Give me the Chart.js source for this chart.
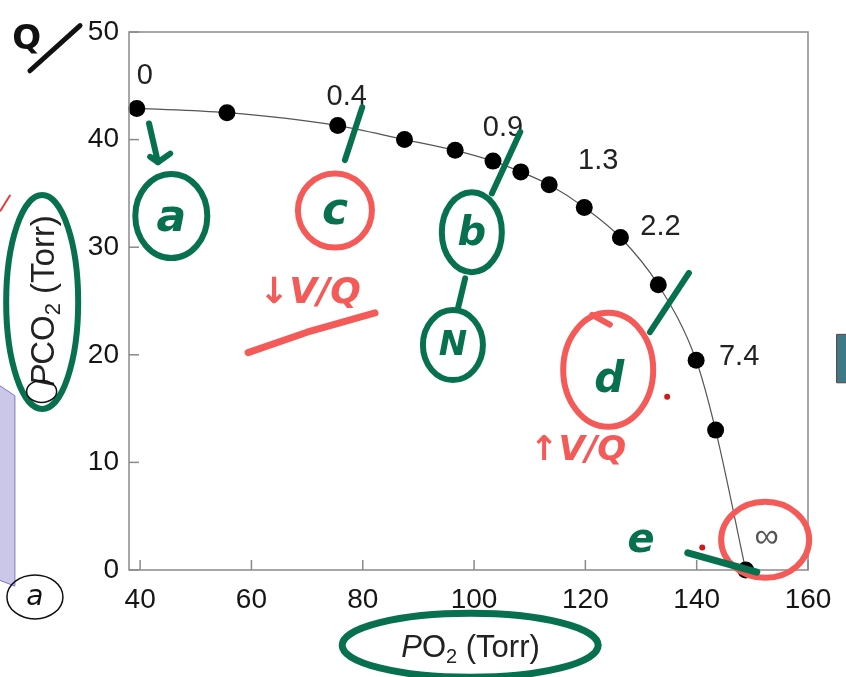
<!DOCTYPE html>
<html>
<head>
<meta charset="utf-8">
<script src="https://cdn.jsdelivr.net/npm/chart.js@4.4.1/dist/chart.umd.min.js"></script>
<style>
  html, body { margin: 0; padding: 0; background: #ffffff; }
  #wrap { width: 846px; height: 677px; }
</style>
</head>
<body>
<div id="wrap"><canvas id="c" width="846" height="677"></canvas></div>
<script>
// O2–CO2 diagram: alveolar PO2 / PCO2 along the ventilation–perfusion line
const po2  = [39.4, 55.6, 75.5, 87.5, 96.6, 103.4, 108.4, 113.5, 119.8, 126.3, 133.1, 139.9, 143.4, 148.8];
const pco2 = [42.9, 42.5, 41.3, 40.0, 39.0, 38.0, 37.0, 35.8, 33.7, 30.9, 26.5, 19.5, 13.0, 0];
// V/Q ratio written beside some of the points
const vqLabels = ['0', null, '0.4', null, null, '0.9', null, '1.3', null, '2.2', null, '7.4', null, '∞'];
const xTicks = [40, 60, 80, 100, 120, 140, 160];
const yTicks = [0, 10, 20, 30, 40, 50];

// pixel offsets of each V/Q label from its point
const labelOffset = { '0': [8, -32], '0.4': [9, -29], '0.9': [10, -33], '1.3': [49, -24], '2.2': [40, -11], '7.4': [43, -3], '∞': [21, -32] };

const GREEN = '#07704f', RED = '#f45b58', BLACK = '#111111';
const FONT = '"Liberation Sans", Arial, sans-serif';

// hand-drawn notes, placed in axis units
const noteStrokes = [
  { pts: [[41.6, 41.5], [43.2, 37.9]], color: GREEN, w: 6 },
  { pts: [[41.8, 38.4], [43.2, 37.9], [45.4, 38.7]], color: GREEN, w: 6 },
  { pts: [[79.9, 43.0], [76.8, 38.1]], color: GREEN, w: 6 },
  { pts: [[59.4, 20.2], [70, 22.1], [82.2, 23.9]], color: RED, w: 7 },
  { pts: [[108.3, 40.7], [103.2, 35.0]], color: GREEN, w: 6 },
  { pts: [[98.4, 27.1], [97.1, 24.3]], color: GREEN, w: 6 },
  { pts: [[138.6, 27.6], [131.6, 22.1]], color: GREEN, w: 6 },
  { pts: [[121.2, 23.7], [124.4, 22.8]], color: RED, w: 6 },
  { pts: [[138.4, 1.6], [150.8, -0.2]], color: GREEN, w: 7 },
  { pts: [[20.2, 46.4], [29.2, 50.6]], color: BLACK, w: 5 },
  { pts: [[14.9, 33.4], [16.6, 34.8]], color: '#e0403c', w: 2 }
];
const noteEllipses = [
  { c: [45.6, 32.9], rx: 36, ry: 42, color: GREEN, w: 6 },
  { c: [75.0, 33.4], rx: 37, ry: 37, color: RED, w: 6 },
  { c: [99.6, 31.4], rx: 30, ry: 40, color: GREEN, w: 6 },
  { c: [96.2, 20.9], rx: 30, ry: 35, color: GREEN, w: 6 },
  { c: [124.1, 18.6], rx: 45, ry: 57, color: RED, w: 6 },
  { c: [152.3, 2.8], rx: 44, ry: 38, color: RED, w: 6 },
  { c: [22.4, 24.9], rx: 36, ry: 107, color: GREEN, w: 6 },
  { c: [99.3, -7.0], rx: 128, ry: 32, color: GREEN, w: 7 },
  { c: [22.3, 16.6], rx: 15, ry: 11, color: BLACK, w: 1.5 },
  { c: [21.1, -2.5], rx: 28, ry: 22, color: BLACK, w: 1.5 }
];
const noteTexts = [
  { t: 'a', at: [45.6, 32.6], color: GREEN, font: 'bold italic 44px "DejaVu Sans"' },
  { t: 'c', at: [75.0, 33.2], color: GREEN, font: 'bold italic 44px "DejaVu Sans"' },
  { t: 'b', at: [99.6, 31.2], color: GREEN, font: 'bold italic 40px "DejaVu Sans"' },
  { t: 'N', at: [96.2, 20.8], color: GREEN, font: 'bold italic 34px "DejaVu Sans"' },
  { t: 'd', at: [124.3, 17.6], color: GREEN, font: 'bold italic 42px "DejaVu Sans"' },
  { t: 'e', at: [130.0, 2.6], color: GREEN, font: 'bold italic 40px "DejaVu Sans"' },
  { t: '↓V/Q', at: [70.5, 25.7], color: RED, font: 'bold italic 36px "DejaVu Sans"' },
  { t: '↑V/Q', at: [118.7, 11.0], color: RED, font: 'bold italic 34px "DejaVu Sans"' },
  { t: 'Q', at: [19.6, 49.2], color: BLACK, font: 'bold 34px "DejaVu Sans"' },
  { t: 'a', at: [21.1, -2.6], color: BLACK, font: 'italic 28px "DejaVu Sans"' }
];
const noteDots = [
  { at: [134.7, 16.1], r: 3, color: '#d11a1a' },
  { at: [141.0, 2.1], r: 3, color: '#d11a1a' }
];
const notePolys = [
  { pts: [[14.0, 17.4], [17.5, 16.2], [17.5, -1.5], [14.0, -0.8]], fill: '#cbc7e8', stroke: '#7f76c2' },
  { pts: [[165.2, 21.9], [167.5, 21.9], [167.5, 17.4], [165.2, 17.4]], fill: '#3b7a86', stroke: '#6b3a40' }
];

const frameAndLabels = {
  id: 'frameAndLabels',
  afterDatasetsDraw(chart) {
    const { ctx, chartArea: a, scales: { x, y } } = chart;
    ctx.save();
    // inward tick marks
    ctx.strokeStyle = '#8a8a8a';
    ctx.lineWidth = 1.5;
    xTicks.forEach(v => {
      const px = x.getPixelForValue(v);
      ctx.beginPath(); ctx.moveTo(px, a.bottom); ctx.lineTo(px, a.bottom - 10); ctx.stroke();
    });
    yTicks.forEach(v => {
      const py = y.getPixelForValue(v);
      ctx.beginPath(); ctx.moveTo(a.left, py); ctx.lineTo(a.left + 10, py); ctx.stroke();
    });
    // plot frame
    ctx.strokeRect(a.left, a.top, a.right - a.left, a.bottom - a.top);
    // V/Q labels
    ctx.textAlign = 'center';
    ctx.textBaseline = 'middle';
    vqLabels.forEach((lab, i) => {
      if (!lab) return;
      const off = labelOffset[lab];
      const inf = lab === '∞';
      ctx.font = (inf ? '34px ' : '29px ') + FONT;
      ctx.fillStyle = inf ? '#555' : '#222';
      ctx.fillText(lab, x.getPixelForValue(po2[i]) + off[0], y.getPixelForValue(pco2[i]) + off[1]);
    });
    ctx.restore();
  },
  afterDraw(chart) {
    const { ctx, chartArea: a, scales: { x, y } } = chart;
    const P = p => [x.getPixelForValue(p[0]), y.getPixelForValue(p[1])];
    ctx.save();

    // axis titles with italic P and subscript 2
    const drawTitle = (parts, cx, cy, rot, size) => {
      ctx.save();
      ctx.translate(cx, cy);
      ctx.rotate(rot);
      ctx.fillStyle = '#222';
      ctx.textBaseline = 'alphabetic';
      ctx.textAlign = 'left';
      const fontOf = s => (s.it ? 'italic ' : '') + Math.round(s.sub ? size * 0.66 : size) + 'px ' + FONT;
      let w = 0;
      parts.forEach(s => { ctx.font = fontOf(s); w += ctx.measureText(s.t).width; });
      let cur = -w / 2;
      parts.forEach(s => {
        ctx.font = fontOf(s);
        ctx.fillText(s.t, cur, s.sub ? size * 0.55 : size * 0.36);
        cur += ctx.measureText(s.t).width;
      });
      ctx.restore();
    };
    drawTitle([{ t: 'P', it: true }, { t: 'O' }, { t: '2', sub: true }, { t: ' (Torr)' }],
      (a.left + a.right) / 2 + 2, a.bottom + 76, 0, 31);
    drawTitle([{ t: 'P', it: true }, { t: 'CO' }, { t: '2', sub: true }, { t: ' (Torr)' }],
      a.left - 87, (a.top + a.bottom) / 2, -Math.PI / 2, 33);

    ctx.lineCap = 'round';
    ctx.lineJoin = 'round';
    notePolys.forEach(p => {
      ctx.beginPath();
      p.pts.map(P).forEach((q, i) => i ? ctx.lineTo(q[0], q[1]) : ctx.moveTo(q[0], q[1]));
      ctx.closePath();
      ctx.fillStyle = p.fill; ctx.fill();
      ctx.strokeStyle = p.stroke; ctx.lineWidth = 1; ctx.stroke();
    });
    noteEllipses.forEach(e => {
      const c = P(e.c);
      ctx.beginPath();
      ctx.ellipse(c[0], c[1], e.rx, e.ry, 0, 0, Math.PI * 2);
      ctx.strokeStyle = e.color; ctx.lineWidth = e.w; ctx.stroke();
    });
    noteStrokes.forEach(s => {
      ctx.beginPath();
      s.pts.map(P).forEach((q, i) => i ? ctx.lineTo(q[0], q[1]) : ctx.moveTo(q[0], q[1]));
      ctx.strokeStyle = s.color; ctx.lineWidth = s.w; ctx.stroke();
    });
    ctx.textAlign = 'center';
    ctx.textBaseline = 'middle';
    noteTexts.forEach(t => {
      const c = P(t.at);
      ctx.font = t.font; ctx.fillStyle = t.color;
      ctx.fillText(t.t, c[0], c[1]);
    });
    noteDots.forEach(d => {
      const c = P(d.at);
      ctx.beginPath(); ctx.arc(c[0], c[1], d.r, 0, Math.PI * 2);
      ctx.fillStyle = d.color; ctx.fill();
    });
    ctx.restore();
  }
};

new Chart(document.getElementById('c'), {
  type: 'scatter',
  data: {
    datasets: [{
      data: po2.map((v, i) => ({ x: v, y: pco2[i] })),
      showLine: true,
      cubicInterpolationMode: 'monotone',
      borderColor: '#555555',
      borderWidth: 1.2,
      pointRadius: 8.5,
      pointBackgroundColor: '#000000',
      pointBorderColor: '#000000',
      pointBorderWidth: 0,
      clip: false
    }]
  },
  options: {
    responsive: false,
    devicePixelRatio: 1,
    animation: false,
    events: [],
    layout: { padding: { left: 0, right: 38, top: 32, bottom: 0 } },
    plugins: { legend: { display: false }, tooltip: { enabled: false } },
    scales: {
      x: {
        type: 'linear', min: 38, max: 160,
        afterBuildTicks: s => { s.ticks = xTicks.map(v => ({ value: v })); },
        afterFit: s => { s.height = 107; },
        grid: { display: false, drawTicks: false },
        border: { display: false },
        ticks: { padding: 13, color: '#151515', font: { family: FONT, size: 28 }, maxRotation: 0 }
      },
      y: {
        type: 'linear', min: 0, max: 50,
        afterBuildTicks: s => { s.ticks = yTicks.map(v => ({ value: v })); },
        afterFit: s => { s.width = 129; },
        grid: { display: false, drawTicks: false },
        border: { display: false },
        ticks: { padding: 10, color: '#151515', font: { family: FONT, size: 28 } }
      }
    }
  },
  plugins: [frameAndLabels]
});
</script>
</body>
</html>
